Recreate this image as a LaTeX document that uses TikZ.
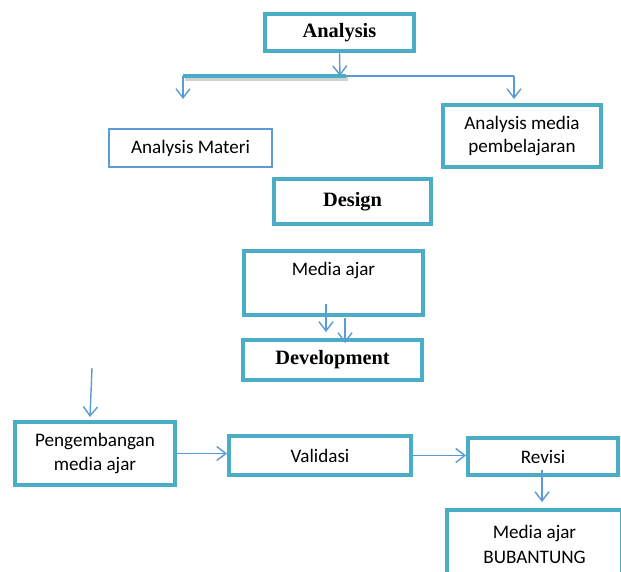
\documentclass[tikz,border=0pt]{standalone}
\usepackage{fontspec}
\setmainfont{Carlito}
\newfontfamily\headfont{Liberation Serif}
\usepackage{tikz}
\usetikzlibrary{positioning,arrows.meta,calc}
\definecolor{tealb}{HTML}{4BACC6}
\definecolor{lblue}{HTML}{5B9BD5}
\newcommand{\pxu}{0.025cm}

\begin{document}
\begin{tikzpicture}[x=\pxu,y=-\pxu,
	box/.style={draw=tealb, line width=2.8pt, fill=white, inner sep=0pt, align=center, font=\fontsize{13.6}{16.5}\selectfont},
	thinbox/.style={draw=lblue, line width=1.4pt, fill=white, inner sep=0pt, align=center, font=\fontsize{13.6}{16.5}\selectfont},
	head/.style={font=\headfont\bfseries\fontsize{14.5}{17}\selectfont},
	arr/.style={-{Straight Barb[length=6.5pt,width=10pt]}, draw=lblue, line width=1pt}]
					\clip (0,0) rectangle (621,572);
					\node[box,head,minimum width=149*\pxu,minimum height=37*\pxu] (analysis) at (339.5,32.5) {Analysis};
					\node[thinbox,minimum width=163*\pxu,minimum height=38*\pxu] (materi) at (190.5,148) {Analysis Materi};
					\node[box,minimum width=158*\pxu,minimum height=62*\pxu] (mediapemb) at (522,136) {Analysis media\\pembelajaran};
					\node[box,head,minimum width=157*\pxu,minimum height=45*\pxu] (design) at (352.5,201.5) {Design};
					\node[box,minimum width=179*\pxu,minimum height=64*\pxu] (mediaajar) at (333.5,283) {Media ajar\\[3pt]\mbox{}};
					\node[box,head,minimum width=179*\pxu,minimum height=40*\pxu] (devel) at (332.5,360) {Development};
					\node[box,minimum width=160*\pxu,minimum height=63*\pxu] (pengembangan) at (95,453.5) {Pengembangan\\media ajar};
					\node[box,minimum width=182*\pxu,minimum height=39*\pxu] (validasi) at (320,455.5) {Validasi};
					\node[box,minimum width=150*\pxu,minimum height=37*\pxu] (revisi) at (543,456.5) {Revisi};
					\node[box,minimum width=175*\pxu,minimum height=69*\pxu,font=\fontsize{13.6}{18}\selectfont] (final) at (534.5,544.5) {Media ajar\\BUBANTUNG};
					% cabang analysis
					\coordinate (split) at (340,76);
					\coordinate (barL) at (183,76);
					\coordinate (barM) at (346,76);
					\coordinate (barR) at (514,76);
					\coordinate (toMateri) at (183,99);
					\coordinate (toMedia) at (514,99);
					\draw[arr] (analysis.south) -- (split);
					\draw[lblue,line width=1pt] (barL) -- (barR);
					\draw[black!40,opacity=.45,line width=2.6pt] ($(barL)+(2,3)$) -- ($(barM)+(2,3)$);
					\draw[tealb,line width=2.2pt] (barL) -- (barM);
					\draw[arr] (barL) -- (toMateri);
					\draw[arr] (barR) -- (toMedia);
					% media ajar ke development
					\coordinate (m1) at (326,304);
					\coordinate (m2) at (345,318);
					\coordinate (d1) at (326,332);
					\coordinate (d2) at (345,343);
					\draw[arr] (m1) -- (d1);
					\draw[arr] (m2) -- (d2);
					% development
					\coordinate (devin) at (92,368);
					\draw[arr] (devin) -- ($(pengembangan.north)+(-5,-3)$);
					\draw[arr] (pengembangan.east) -- (pengembangan.east -| validasi.west);
					\draw[arr] (validasi.east) -- (validasi.east -| revisi.west);
					\coordinate (revout) at (542,470);
					\coordinate (finalin) at (542,502);
					\draw[arr] (revout) -- (finalin);
\end{tikzpicture}
\end{document}
